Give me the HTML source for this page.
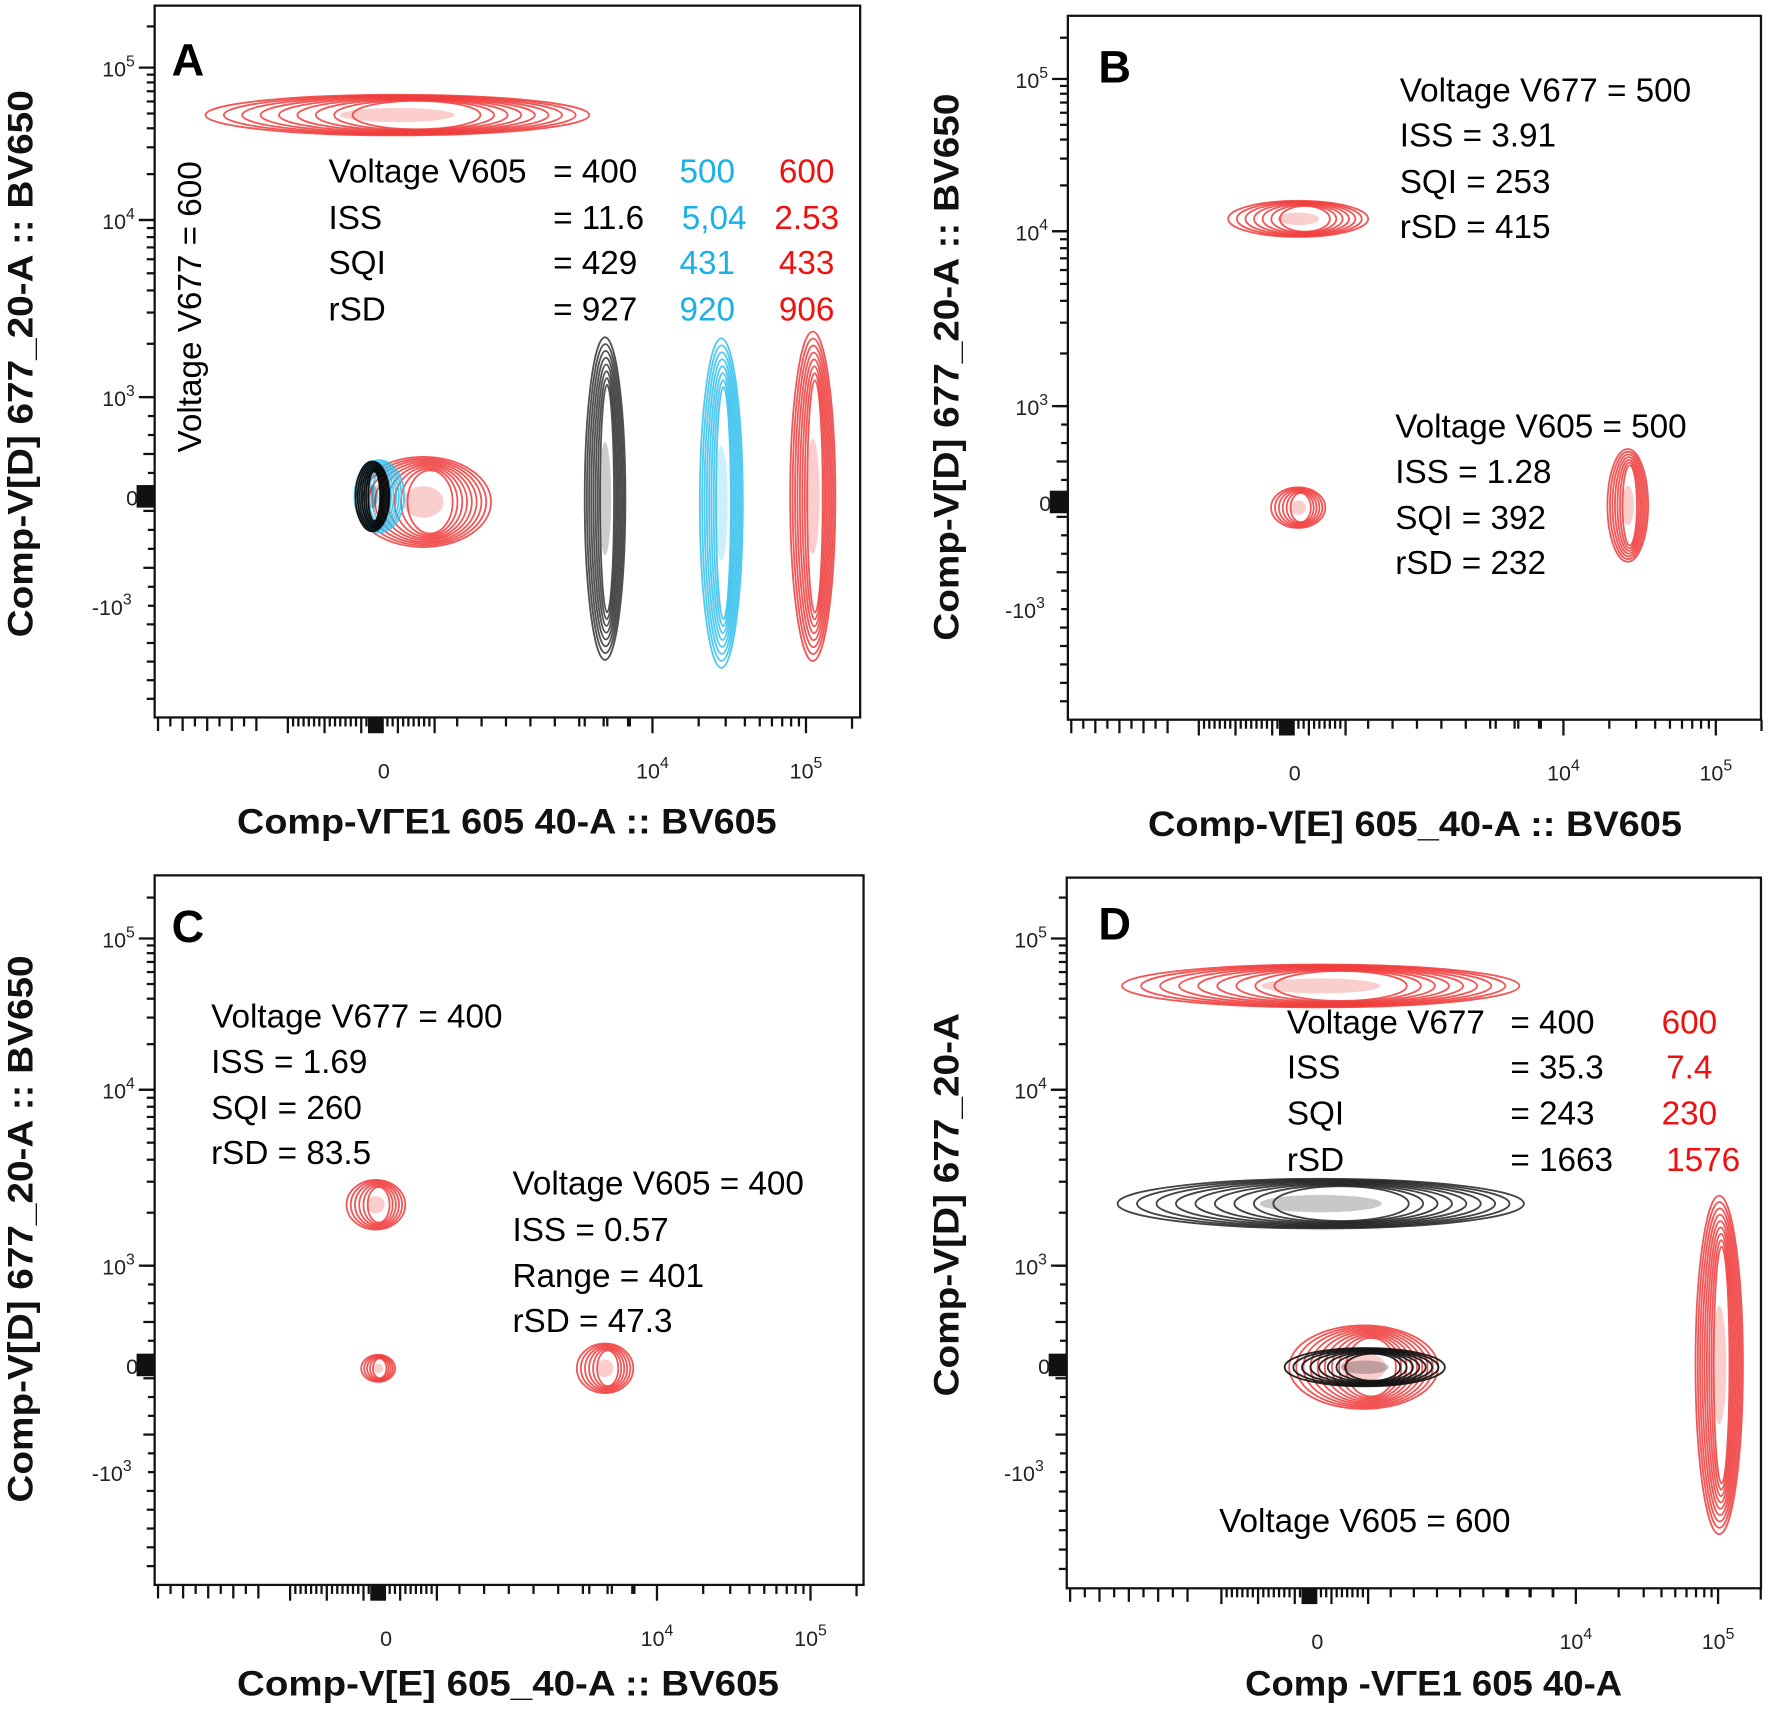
<!DOCTYPE html>
<html><head><meta charset="utf-8"><style>
html,body{margin:0;padding:0;background:#fff}
svg{display:block}
.t{font-family:"Liberation Sans",sans-serif;font-size:29.5px;fill:#000}
.tk{font-family:"Liberation Sans",sans-serif;font-size:19px;fill:#222}
.ax{font-family:"Liberation Sans",sans-serif;font-size:31px;font-weight:bold;fill:#111}
.L{font-family:"Liberation Sans",sans-serif;font-size:40px;font-weight:bold;fill:#000}
.b{fill:#1ab0e8}.r{fill:#ee1111}
</style></head><body>
<svg id="s" xmlns="http://www.w3.org/2000/svg" width="1770" height="1709" viewBox="0 0 1568 1515" preserveAspectRatio="none">
<rect width="1568" height="1515" fill="#fff"/>
<g id="g"></g>
<text class="L" x="152" y="67">A</text>
<text class="t" transform="translate(178,272) rotate(-90)" text-anchor="middle">Voltage V677 = 600</text>
<g class="t">
<text x="291" y="162">Voltage V605</text><text x="490" y="162">= 400</text><text class="b" x="602" y="162">500</text><text class="r" x="690" y="162">600</text>
<text x="291" y="203">ISS</text><text x="490" y="203">= 11.6</text><text class="b" x="604" y="203">5,04</text><text class="r" x="686" y="203">2.53</text>
<text x="291" y="243">SQI</text><text x="490" y="243">= 429</text><text class="b" x="602" y="243">431</text><text class="r" x="690" y="243">433</text>
<text x="291" y="284">rSD</text><text x="490" y="284">= 927</text><text class="b" x="602" y="284">920</text><text class="r" x="690" y="284">906</text>
</g>
<text class="L" x="973" y="73">B</text>
<g class="t">
<text x="1240" y="90">Voltage V677 = 500</text><text x="1240" y="130">ISS = 3.91</text><text x="1240" y="171">SQI = 253</text><text x="1240" y="211">rSD = 415</text>
<text x="1236" y="388">Voltage V605 = 500</text><text x="1236" y="428">ISS = 1.28</text><text x="1236" y="469">SQI = 392</text><text x="1236" y="509">rSD = 232</text>
</g>
<text class="L" x="152" y="835">C</text>
<g class="t">
<text x="187" y="911">Voltage V677 = 400</text><text x="187" y="951">ISS = 1.69</text><text x="187" y="992">SQI = 260</text><text x="187" y="1032">rSD = 83.5</text>
<text x="454" y="1059">Voltage V605 = 400</text><text x="454" y="1100">ISS = 0.57</text><text x="454" y="1141">Range = 401</text><text x="454" y="1181">rSD = 47.3</text>
</g>
<text class="L" x="973" y="833">D</text>
<g class="t">
<text x="1140" y="916">Voltage V677</text><text x="1338" y="916">= 400</text><text class="r" x="1472" y="916">600</text>
<text x="1140" y="956">ISS</text><text x="1338" y="956">= 35.3</text><text class="r" x="1476" y="956">7.4</text>
<text x="1140" y="997">SQI</text><text x="1338" y="997">= 243</text><text class="r" x="1472" y="997">230</text>
<text x="1140" y="1038">rSD</text><text x="1338" y="1038">= 1663</text><text class="r" x="1476" y="1038">1576</text>
<text x="1080" y="1358">Voltage V605 = 600</text>
</g>
<text class="ax" x="210" y="739" textLength="478" lengthAdjust="spacingAndGlyphs">Comp-VΓE1 605  40-A :: BV605</text>
<text class="ax" x="1017" y="741" textLength="473" lengthAdjust="spacingAndGlyphs">Comp-V[E] 605_40-A :: BV605</text>
<text class="ax" x="210" y="1503" textLength="480" lengthAdjust="spacingAndGlyphs">Comp-V[E] 605_40-A :: BV605</text>
<text class="ax" x="1103" y="1503" textLength="334" lengthAdjust="spacingAndGlyphs">Comp -VΓE1 605  40-A</text>
<text class="ax" transform="translate(29,565) rotate(-90)" textLength="485" lengthAdjust="spacingAndGlyphs">Comp-V[D] 677_20-A :: BV650</text>
<text class="ax" transform="translate(849,568) rotate(-90)" textLength="485" lengthAdjust="spacingAndGlyphs">Comp-V[D] 677_20-A :: BV650</text>
<text class="ax" transform="translate(29,1332) rotate(-90)" textLength="485" lengthAdjust="spacingAndGlyphs">Comp-V[D] 677_20-A :: BV650</text>
<text class="ax" transform="translate(849,1238) rotate(-90)" textLength="340" lengthAdjust="spacingAndGlyphs">Comp-V[D] 677_20-A</text>
</svg>
<script>
var g=document.getElementById('g'),NS='http://www.w3.org/2000/svg';
function el(t,a){var e=document.createElementNS(NS,t);for(var k in a)e.setAttribute(k,a[k]);g.appendChild(e);return e;}
function txt(x,y,s,sup,anchor){var e=el('text',{x:x,y:y,'class':'tk','text-anchor':anchor||'middle'});e.textContent=s;if(sup){var p=document.createElementNS(NS,'tspan');p.setAttribute('dy','-9');p.setAttribute('font-size','14');p.textContent=sup;e.appendChild(p);}}
function panel(P){
 el('rect',{x:P.x0,y:P.y0,width:P.x1-P.x0,height:P.y1-P.y0,fill:'none',stroke:'#111','stroke-width':2});
 var y=P.y;var d=y[3];
 [[y[0],y[1]],[y[1],y[2]]].forEach(function(s){for(var k=1;k<=10;k++){var yy=s[1]-(s[1]-s[0])*Math.log10(k);el('line',{x1:P.x0-(k==1||k==10?14:7),x2:P.x0,y1:yy,y2:yy,stroke:'#111','stroke-width':2});}});
 for(var k=2;k<10;k++){var yy=y[0]-(y[1]-y[0])*Math.log10(k)*0.9;if(yy>P.y0)el('line',{x1:P.x0-7,x2:P.x0,y1:yy,y2:yy,stroke:'#111','stroke-width':2});}
 for(var i=0;i<12;i++){var yy=y[2]+(y[4]-y[2])*i/11;el('line',{x1:P.x0-(i%3==0?10:6),x2:P.x0,y1:yy,y2:yy,stroke:'#111','stroke-width':2});}
 for(var i=1;i<6;i++){var yy=y[4]+(P.y1-y[4])*i/6;el('line',{x1:P.x0-7,x2:P.x0,y1:yy,y2:yy,stroke:'#111','stroke-width':2});}
 el('rect',{x:P.x0-16,y:d-10,width:16,height:20,fill:'#111'});
 txt(P.x0-32,y[0]+8,'10','5');txt(P.x0-32,y[1]+8,'10','4');txt(P.x0-32,y[2]+8,'10','3');txt(P.x0-20,d+8,'0');txt(P.x0-38,y[4]+8,'-10','3');
 var x=P.x;var xb=P.y1;
 for(var i=0;i<9;i++){var xx=P.x0+3+(x[0]-105-P.x0)*i/9;el('line',{x1:xx,x2:xx,y1:xb,y2:xb+(i%2?8:12),stroke:'#111','stroke-width':2});}
 for(var i=0;i<=28;i++){var xx=x[0]-85+130*i/28;el('line',{x1:xx,x2:xx,y1:xb,y2:xb+((i%7==0)?14:8),stroke:'#111','stroke-width':2});}
 el('rect',{x:x[0]-14,y:xb,width:14,height:14,fill:'#111'});
 for(var i=0;i<8;i++){var xx=x[0]+65+(x[1]-x[0]-65)*i/8;el('line',{x1:xx,x2:xx,y1:xb,y2:xb+8,stroke:'#111','stroke-width':2});}
 for(var k=1;k<=10;k++){var xx=x[1]+(x[2]-x[1])*Math.log10(k);el('line',{x1:xx,x2:xx,y1:xb,y2:xb+(k==1||k==10?14:8),stroke:'#111','stroke-width':2});}
 for(var k=2;k<=4;k++){var xx2=x[1]-20*(5-k);el('line',{x1:xx2,x2:xx2,y1:xb,y2:xb+8,stroke:'#111','stroke-width':2});}
 var xe=x[2]+(x[2]-x[1])*0.3;el('line',{x1:xe,x2:xe,y1:xb,y2:xb+10,stroke:'#111','stroke-width':2});
 txt(x[0],xb+54,'0');txt(x[1],xb+54,'10','4');txt(x[2],xb+54,'10','5');
}
function C(cx,cy,rx,ry,col,n,op){for(var i=0;i<n;i++){var f=1-i*0.75/n;el('ellipse',{cx:cx+(1-f)*rx*0.15,cy:cy,rx:rx*f,ry:ry*(0.55+0.45*f),fill:'none',stroke:col,'stroke-width':1.6,opacity:op||0.85});}
 el('ellipse',{cx:cx,cy:cy,rx:rx*0.3,ry:ry*0.35,fill:col,opacity:0.25});}
var R='#f03a3a',K='#333',B='#33c0ee';
panel({x0:137,y0:5,x1:762,y1:636,y:[60,195,352,440,537],x:[340,578,714]});
panel({x0:946,y0:14,x1:1560,y1:638,y:[70,205,360,445,540],x:[1147,1385,1520]});
panel({x0:137,y0:776,x1:765,y1:1405,y:[832,966,1122,1210,1305],x:[342,582,718]});
panel({x0:945,y0:778,x1:1560,y1:1408,y:[832,966,1122,1210,1305],x:[1167,1396,1522]});
C(352,102,170,18,R,9);
C(536,442,18,143,K,8);C(639,446,19,146,B,8);C(720,440,20,146,R,8);
C(375,445,60,40,R,9);C(336,440,22,32,B,6);C(330,440,15,31,'#000',7,0.9);
C(1150,194,62,16,R,7);C(1150,450,24,18,R,6);C(1442,448,18,50,R,7);
C(333,1068,26,22,R,6);C(335,1213,15,12,R,5);C(536,1213,25,22,R,6);
C(1170,874,176,19,R,9);C(1170,1067,180,22,'#222',9);
C(1208,1212,66,37,R,9);C(1209,1212,71,17,'#111',8,0.9);C(1523,1210,21,150,R,9);
</script>
</body></html>
